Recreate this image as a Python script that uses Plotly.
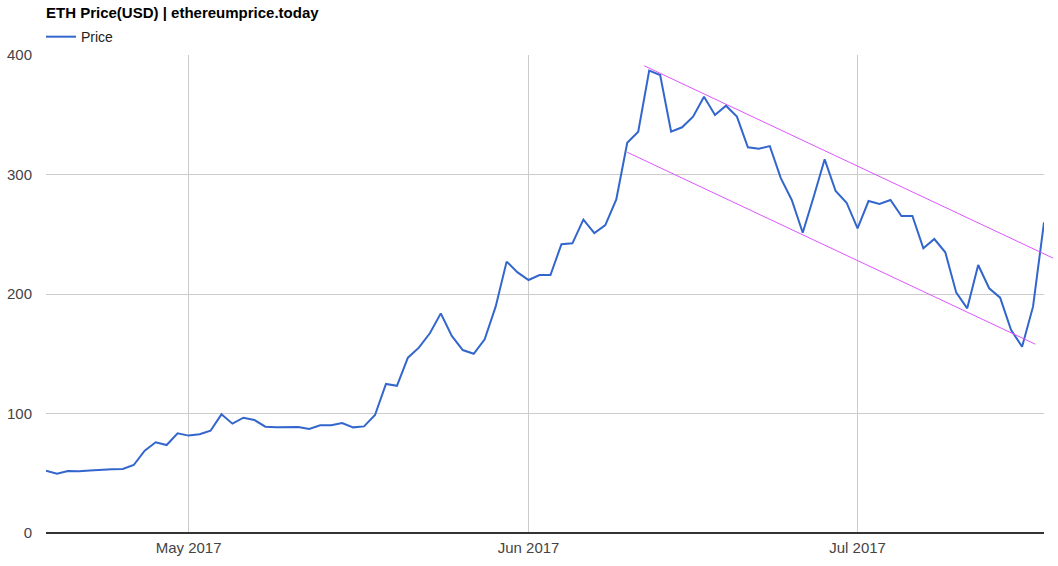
import pandas as pd
import plotly.graph_objects as go

start_date = "2017-04-18"
prices = [52.1, 49.6, 51.9, 51.7, 52.4, 53.1, 53.3, 53.6, 56.9, 68.9,
          75.9, 73.6, 83.4, 81.5, 82.6, 85.6, 99.3, 91.5, 96.5, 94.6,
          89.0, 88.4, 88.4, 88.7, 87.0, 90.1, 90.1, 92.0, 88.4, 89.2,
          98.7, 124.7, 123.2, 146.7, 155.1, 167.1, 183.8, 164.9, 153.1, 150.0,
          162.1, 189.4, 227.1, 218.1, 211.7, 215.9, 215.9, 241.7, 242.4, 262.2,
          251.0, 257.7, 279.2, 326.6, 335.8, 386.9, 383.3, 335.8, 339.5, 348.4,
          365.1, 349.8, 357.6, 348.4, 322.8, 321.6, 323.8, 297.0, 278.7, 251.3,
          281.4, 312.7, 286.2, 276.4, 255.0, 277.8, 275.3, 278.7, 265.3, 265.3,
          238.2, 246.0, 234.9, 201.1, 188.0, 224.3, 204.8, 196.9, 169.9, 155.9,
          189.4, 260.0]
dates = pd.date_range(start_date, periods=len(prices), freq="D")

month_ticks = ["2017-05-01", "2017-06-01", "2017-07-01"]
month_labels = ["May 2017", "Jun 2017", "Jul 2017"]
y_ticks = [0, 100, 200, 300, 400]

# channel (trend) lines: start/end dates and values
upper_dates = ["2017-06-11 13:00", "2017-07-18 20:00"]
upper_vals = [391, 230]
lower_dates = ["2017-06-10 00:00", "2017-07-17 05:00"]
lower_vals = [318.6, 158]

x_range = [pd.Timestamp("2017-04-18"), pd.Timestamp("2017-07-18")]
y_range = [0, 400]

fig = go.Figure()
fig.add_trace(go.Scatter(x=dates, y=prices, mode="lines", name="Price",
                         line=dict(color="#3366CC", width=2)))

def to_paper(d):
    t = pd.Timestamp(d)
    return (t - x_range[0]) / (x_range[1] - x_range[0])

for ds, vs in [(upper_dates, upper_vals), (lower_dates, lower_vals)]:
    fig.add_shape(type="line", xref="paper", yref="y",
                  x0=to_paper(ds[0]), y0=vs[0], x1=to_paper(ds[1]), y1=vs[1],
                  line=dict(color="#DD55FF", width=1))

fig.update_layout(
    width=1058, height=566,
    margin=dict(l=46, r=14, t=55, b=33, autoexpand=False),
    paper_bgcolor="white", plot_bgcolor="white",
    font=dict(family="Arial, Liberation Sans, sans-serif", size=14, color="#444"),
    showlegend=True,
    legend=dict(x=-0.005, y=1.004, xanchor="left", yanchor="bottom", orientation="h",
                yref="paper", xref="paper",
                font=dict(size=14, color="#222"), bgcolor="rgba(0,0,0,0)",
                itemwidth=30, tracegroupgap=0),
    xaxis=dict(type="date", range=x_range, tickvals=month_ticks, ticktext=month_labels,
               showgrid=True, gridcolor="#CCCCCC", gridwidth=1, ticks="",
               showline=False, zeroline=False, tickfont=dict(size=15, color="#444"),
               ticklabelstandoff=4, automargin=False),
    yaxis=dict(range=y_range, tickvals=y_ticks, showgrid=True, gridcolor="#CCCCCC",
               gridwidth=1, ticks="", zeroline=True, zerolinecolor="#333333",
               zerolinewidth=2, showline=False, tickfont=dict(size=15, color="#444"),
               ticklabelstandoff=13, automargin=False),
    annotations=[dict(text="<b>ETH Price(USD) | ethereumprice.today</b>", xref="paper",
                      yref="paper", x=-0.002, y=1.0, yshift=43, xanchor="left",
                      yanchor="middle", showarrow=False,
                      font=dict(size=15, color="#000"))],
)

# remove the default 8px page margin so the figure sits at the window's corner
fig.write_html("out.html", config={"displayModeBar": False},
               post_script="document.body.style.margin='0';document.body.style.overflow='hidden';")
